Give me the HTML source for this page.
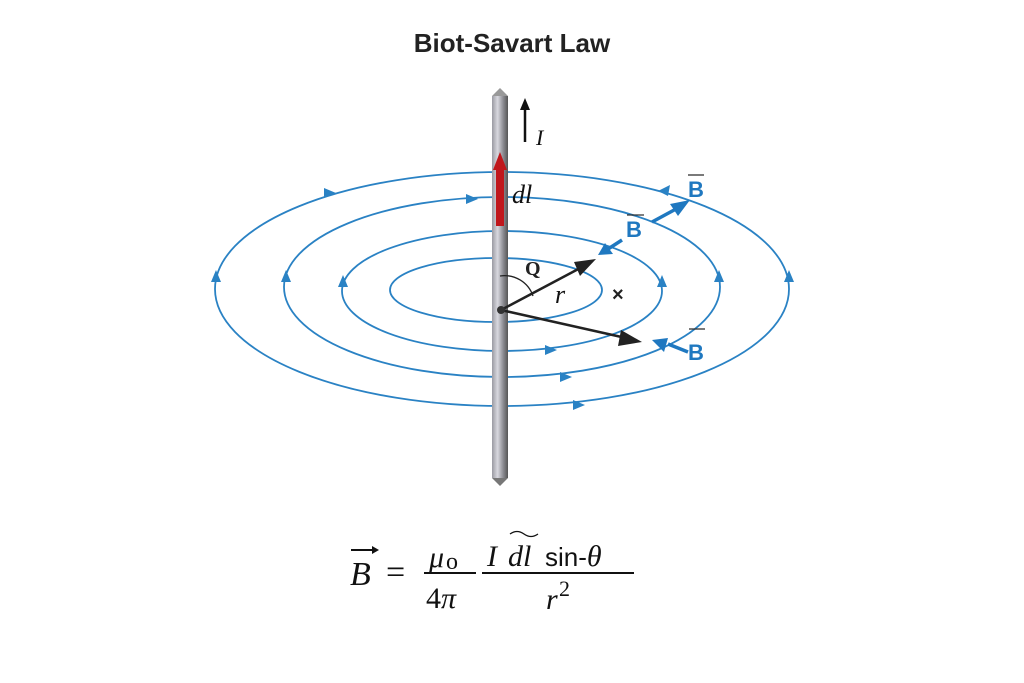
<!DOCTYPE html>
<html><head><style>
body{margin:0;background:#fff;}
svg{display:block}
</style></head><body>
<svg width="1024" height="683" viewBox="0 0 1024 683" xmlns="http://www.w3.org/2000/svg">
<defs>
<linearGradient id="rod" x1="0" x2="1">
<stop offset="0" stop-color="#9a9aa2"/><stop offset="0.35" stop-color="#d8d8df"/><stop offset="0.7" stop-color="#8c8c92"/><stop offset="1" stop-color="#555"/>
</linearGradient>
</defs>
<text x="512" y="52" text-anchor="middle" font-family="Liberation Sans, sans-serif" font-weight="bold" font-size="26" fill="#222">Biot-Savart Law</text>
<g fill="none" stroke="#2a82c4" stroke-width="1.8">
<ellipse cx="502" cy="289" rx="287" ry="117"/>
<ellipse cx="502" cy="287" rx="218" ry="90"/>
<ellipse cx="502" cy="291" rx="160" ry="60"/>
<ellipse cx="496" cy="290" rx="106" ry="32"/>
</g>
<g fill="#2a82c4">
<polygon points="216,270 211,282 221,282"/>
<polygon points="789,270 784,282 794,282"/>
<polygon points="286,270 281,282 291,282"/>
<polygon points="719,270 714,282 724,282"/>
<polygon points="343,275 338,287 348,287"/>
<polygon points="662,275 657,287 667,287"/>
<polygon points="585,405 573,400 573,410"/>
<polygon points="572,377 560,372 560,382"/>
<polygon points="557,350 545,345 545,355"/>
<polygon points="336,193 324,188 324,198"/>
<polygon points="478,199 466,194 466,204"/>
<polygon points="658,191 670,185 668,196"/>
</g>
<rect x="492" y="96" width="16" height="382" fill="url(#rod)"/>
<polygon points="492,96 500,88 508,96" fill="#999"/>
<path d="M492,478 L500,486 L508,478Z" fill="#777"/>
<rect x="496" y="168" width="8" height="58" fill="#c0171c"/>
<polygon points="493,170 500,152 507,170" fill="#c0171c"/>
<line x1="525" y1="142" x2="525" y2="108" stroke="#111" stroke-width="2.5"/>
<polygon points="520,110 525,98 530,110" fill="#111"/>
<text x="536" y="145" font-family="Liberation Serif, serif" font-style="italic" font-size="22" fill="#111">I</text>
<text x="512" y="203" font-family="Liberation Serif, serif" font-style="italic" font-size="26" fill="#111">dl</text>
<g stroke="#222" stroke-width="2.5">
<line x1="501" y1="310" x2="584" y2="266"/>
<line x1="501" y1="310" x2="626" y2="338"/>
</g>
<polygon points="596,259 574,262 580,276" fill="#222"/>
<polygon points="642,342 621,330 618,346" fill="#222"/>
<circle cx="501" cy="310" r="4" fill="#333"/>
<path d="M500,276 A30,30 0 0 1 533,296" fill="none" stroke="#222" stroke-width="1.3"/>
<text x="525" y="275" font-family="Liberation Serif, serif" font-weight="bold" font-size="20" fill="#222">Q</text>
<text x="555" y="303" font-family="Liberation Serif, serif" font-style="italic" font-size="26" fill="#111">r</text>
<text x="612" y="301" font-family="Liberation Sans, sans-serif" font-weight="bold" font-size="20" fill="#222">×</text>
<g stroke="#1f78c0" stroke-width="3.5">
<line x1="652" y1="222" x2="676" y2="209"/>
<line x1="622" y1="240" x2="605" y2="251"/>
<line x1="688" y1="352" x2="668" y2="344"/>
</g>
<g fill="#1f78c0">
<polygon points="690,200 670,204 678,216"/>
<polygon points="598,255 605,243 613,254"/>
<polygon points="652,340 668,338 664,352"/>
</g>
<g font-family="Liberation Sans, sans-serif" font-weight="bold" font-size="22" fill="#1f78c0">
<text x="688" y="197">B</text><text x="626" y="237">B</text><text x="688" y="360">B</text>
</g>
<g stroke="#333" stroke-width="1.3">
<line x1="688" y1="175" x2="704" y2="175"/><line x1="627" y1="215" x2="644" y2="215"/><line x1="689" y1="329" x2="705" y2="329"/>
</g>
<g font-family="Liberation Serif, serif" font-size="34" fill="#111">
<text x="350" y="585" font-style="italic">B</text>
<line x1="351" y1="550" x2="377" y2="550" stroke="#111" stroke-width="2"/>
<polygon points="372,546 379,550 372,554" fill="#111"/>
<text x="386" y="583">=</text>
<text x="429" y="567" font-style="italic" font-size="30">μ</text><text x="446" y="569" font-size="24">o</text>
<line x1="424" y1="573" x2="476" y2="573" stroke="#111" stroke-width="2"/>
<text x="426" y="608" font-size="30">4<tspan font-style="italic">π</tspan></text>
<text x="487" y="566" font-style="italic" font-size="30">I</text>
<text x="508" y="566" font-style="italic" font-size="30">dl</text>
<path d="M510,534 q7,-5 14,0 t14,0" fill="none" stroke="#111" stroke-width="1.3"/>
<text x="545" y="566" font-family="Liberation Sans, sans-serif" font-size="26">sin-<tspan font-family="Liberation Serif, serif" font-style="italic" font-size="30">θ</tspan></text>
<line x1="482" y1="573" x2="634" y2="573" stroke="#111" stroke-width="2"/>
<text x="546" y="609" font-style="italic" font-size="30">r</text><text x="559" y="596" font-size="22">2</text>
</g>
</svg>
</body></html>
